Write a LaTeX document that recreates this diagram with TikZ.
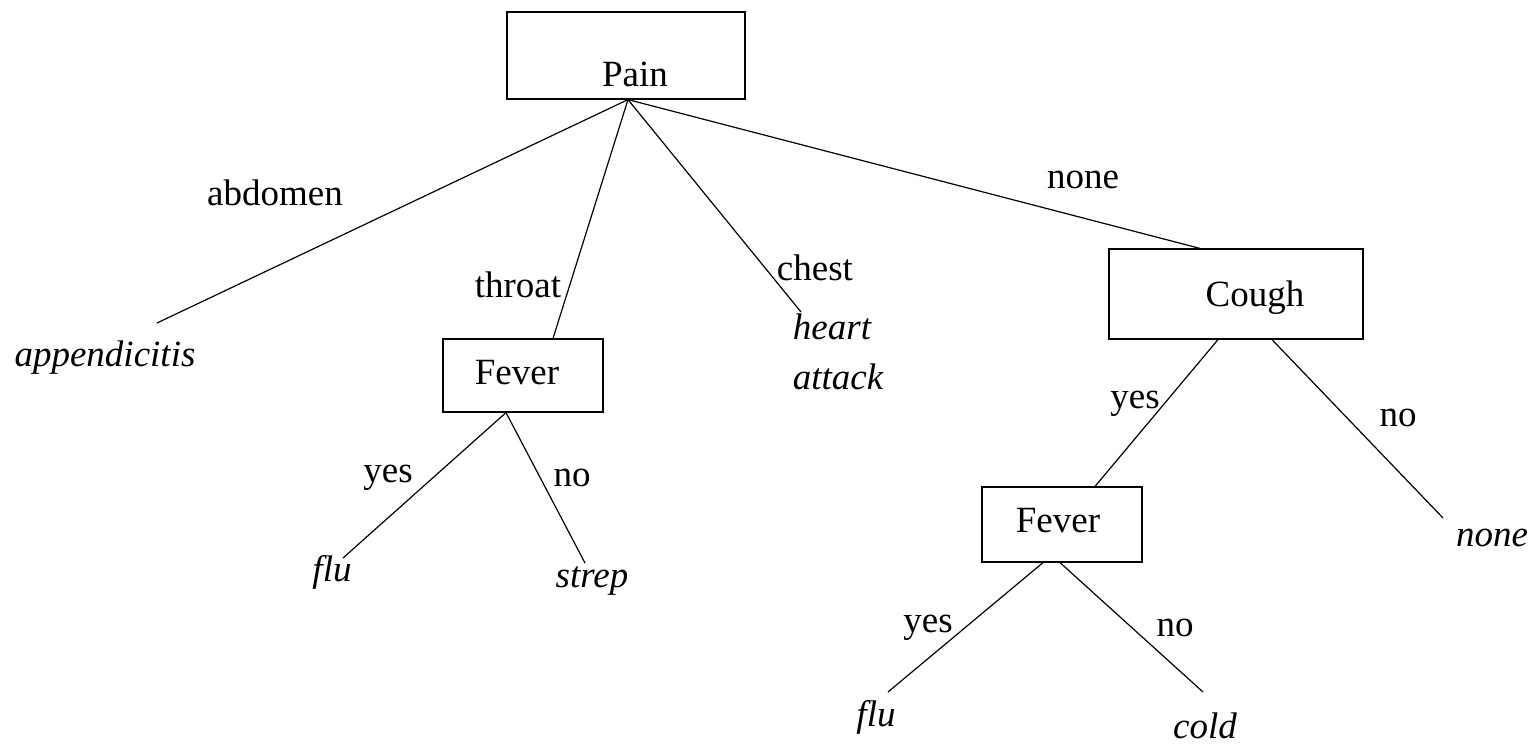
\documentclass[tikz,border=0pt]{standalone}
\usepackage{fontspec}
\setmainfont{Liberation Serif}
\usetikzlibrary{calc}
\begin{document}
\begin{tikzpicture}[x=0.5pt,y=-0.5pt,
  every node/.style={inner sep=0pt,font=\fontsize{18.5}{22}\selectfont},
  testbox/.style={draw,line width=0.6pt,rectangle},
  leaf/.style={font=\fontsize{18.5}{22}\selectfont\itshape},
  branch/.style={line width=0.6pt}]
\useasboundingbox (0,0) rectangle (1537,744);

% decision nodes (boxes) and their captions
\node[testbox,minimum width=119pt,minimum height=43.5pt] (pain) at (626,55.5) {};
\node (painlbl) at (635,74) {Pain};
\node[testbox,minimum width=80pt,minimum height=36.5pt] (fevA) at (523,375.5) {};
\node (fevAlbl) at (517,373) {Fever};
\node[testbox,minimum width=127pt,minimum height=45pt] (cough) at (1236,294) {};
\node (coughlbl) at (1255,298) {Cough};
\node[testbox,minimum width=80pt,minimum height=37.5pt] (fevB) at (1062,524.5) {};
\node (fevBlbl) at (1058,521) {Fever};

% leaves
\node[leaf] (appx) at (105,358) {appendicitis};
\node[leaf] (heart) at (832,327) {heart};
\node[leaf] (attack) at (838,377) {attack};
\node[leaf] (fluA) at (332,572) {flu};
\node[leaf] (strep) at (592,581) {strep};
\node[leaf] (nonel) at (1492,538) {none};
\node[leaf] (fluB) at (876,717) {flu};
\node[leaf] (cold) at (1205,726) {cold};

% free ends of the branches
\coordinate (appxend) at (157,323);
\coordinate (heartend) at (801,312);
\coordinate (fluAend) at (343,558);
\coordinate (strepend) at (585,563);
\coordinate (noneend) at (1443,518);
\coordinate (fluBend) at (888,692);
\coordinate (coldend) at (1203,692);

% branches
\draw[branch] ($(pain.south)+(2,0)$) -- (appxend);
\draw[branch] ($(pain.south)+(2,0)$) -- ($(fevA.north)+(30,0)$);
\draw[branch] ($(pain.south)+(2,0)$) -- (heartend);
\draw[branch] ($(pain.south)+(2,0)$) -- ($(cough.north)+(-36,0)$);
\draw[branch] ($(fevA.south)+(-17,0)$) -- (fluAend);
\draw[branch] ($(fevA.south)+(-17,0)$) -- (strepend);
\draw[branch] ($(cough.south)+(-18,0)$) -- ($(fevB.north)+(33,0)$);
\draw[branch] ($(cough.south)+(36,0)$) -- (noneend);
\draw[branch] ($(fevB.south)+(-19,0)$) -- (fluBend);
\draw[branch] ($(fevB.south)+(-2,0)$) -- (coldend);

% branch labels
\node (l1) at (275,193) {abdomen};
\node (l2) at (518,285) {throat};
\node (l3) at (815,268) {chest};
\node (l4) at (1083,180) {none};
\node (l5) at (388,478) {yes};
\node (l6) at (572,478) {no};
\node (l7) at (1135,404) {yes};
\node (l8) at (1398,418) {no};
\node (l9) at (928,628) {yes};
\node (l10) at (1175,628) {no};
\end{tikzpicture}
\end{document}
